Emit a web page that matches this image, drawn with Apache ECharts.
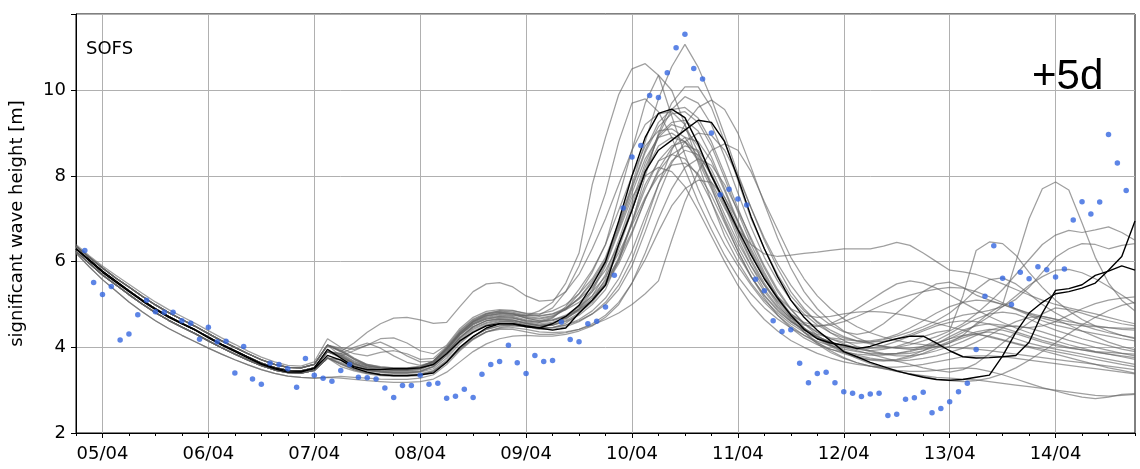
<!DOCTYPE html>
<html><head><meta charset="utf-8">
<script src="https://cdn.jsdelivr.net/npm/echarts@6/dist/echarts.min.js"></script>
<style>html,body{margin:0;padding:0;background:#fff}#c{width:1140px;height:469px}</style>
</head><body><div id="c"></div>
<script>
// x axis: hours since 04/04 18:00 (0..240); day tick labels
const dayLabels = ['05/04','06/04','07/04','08/04','09/04','10/04','11/04','12/04','13/04','14/04'];
const yTicks = [2, 4, 6, 8, 10];

// observations, every 2 h from 04/04 18:00
const obsHs = [null,6.26,5.51,5.23,5.42,4.17,4.31,4.76,5.10,4.83,
 4.82,4.82,4.62,4.56,4.19,4.47,4.13,4.14,3.40,4.02,
 3.26,3.14,3.63,3.60,3.50,3.07,3.74,3.35,3.28,3.21,
 3.46,3.60,3.30,3.29,3.26,3.05,2.83,3.11,3.11,3.35,
 3.14,3.16,2.81,2.86,3.02,2.83,3.37,3.60,3.67,4.05,
 3.64,3.39,3.81,3.67,3.69,4.59,4.18,4.13,4.55,4.61,
 4.94,5.68,7.25,8.44,8.71,9.88,9.83,10.41,10.99,11.31,
 10.51,10.26,9.00,7.56,7.69,7.46,7.32,5.59,5.32,4.62,
 4.37,4.41,3.63,3.17,3.39,3.42,3.17,2.96,2.93,2.85,
 2.91,2.93,2.41,2.44,2.79,2.82,2.95,2.47,2.57,2.73,
 2.96,3.16,3.95,5.19,6.37,5.61,5.00,5.75,5.60,5.88,
 5.81,5.64,5.83,6.97,7.40,7.11,7.39,8.97,8.30,7.66,
 null];

// two highlighted (black) runs, every 3 h from 04/04 18:00
const ctrlA = [6.30,6.02,5.75,5.52,5.30,5.08,4.88,4.70,4.55,4.40,4.22,4.05,3.90,3.75,3.60,3.50,3.42,3.42,3.52,3.95,
 3.75,3.55,3.48,3.48,3.50,3.50,3.52,3.60,3.85,4.15,4.35,4.50,4.55,4.55,4.48,4.45,4.55,4.72,4.98,5.45,
 6.00,6.95,8.00,8.90,9.46,9.56,9.36,8.75,8.00,7.40,6.75,6.15,5.60,5.15,4.75,4.42,4.20,4.10,4.05,3.97,
 4.02,4.12,4.20,4.26,4.26,4.10,3.92,3.78,3.75,3.76,3.78,3.81,4.12,4.80,5.33,5.37,5.46,5.68,5.78,5.90,5.80];
const ctrlB = [6.30,6.05,5.78,5.55,5.32,5.10,4.90,4.72,4.56,4.41,4.24,4.07,3.92,3.77,3.62,3.52,3.45,3.44,3.50,3.81,
 3.70,3.52,3.42,3.36,3.34,3.34,3.36,3.40,3.65,4.00,4.25,4.45,4.55,4.55,4.50,4.45,4.40,4.45,4.80,5.10,
 5.45,6.40,7.20,8.10,8.60,8.83,9.07,9.30,9.25,8.80,7.95,7.05,6.30,5.65,5.10,4.70,4.40,4.15,3.90,3.78,
 3.65,3.55,3.45,3.37,3.30,3.25,3.23,3.25,3.30,3.35,3.80,4.35,4.80,5.05,5.25,5.30,5.38,5.50,5.80,6.12,6.95];

// ensemble members (grey), every 3 h from 04/04 18:00
const ens01 = [6.30,6.03,5.77,5.54,5.32,5.10,4.90,4.72,4.56,4.41,4.24,4.07,3.92,3.77,3.63,3.53,3.46,3.45,3.52,3.90,
 3.80,3.62,3.52,3.48,3.46,3.47,3.50,3.62,3.92,4.28,4.52,4.66,4.72,4.74,4.74,4.85,5.05,5.50,6.20,7.80,
 8.90,9.90,10.50,10.62,10.35,9.40,8.50,7.70,7.00,6.40,5.90,5.45,5.05,4.75,4.50,4.28,4.10,3.96,3.85,3.76,
 3.70,3.68,3.70,3.76,3.86,3.98,4.10,4.22,4.32,4.36,4.30,4.20,4.10,4.02,3.96,3.90,3.84,3.78,3.72,3.66,3.60];
const ens02 = [6.36,6.10,5.85,5.62,5.41,5.19,4.99,4.81,4.65,4.49,4.32,4.15,4.00,3.85,3.71,3.60,3.53,3.52,3.60,4.05,
 3.95,3.75,3.60,3.55,3.52,3.52,3.55,3.68,3.98,4.35,4.62,4.78,4.85,4.85,4.80,4.78,4.85,5.00,5.25,5.60,
 6.10,6.90,7.80,8.80,9.80,10.55,11.07,10.54,9.80,8.95,8.05,7.25,6.55,5.95,5.45,5.05,4.75,4.52,4.36,4.30,
 4.36,4.55,4.80,5.05,5.30,5.48,5.52,5.40,5.22,5.10,5.00,4.88,4.75,4.62,4.52,4.45,4.38,4.32,4.26,4.20,4.15];
const ens03 = [6.30,6.03,5.77,5.54,5.32,5.10,4.90,4.72,4.56,4.41,4.24,4.07,3.92,3.77,3.63,3.53,3.46,3.45,3.52,3.90,
 3.78,3.60,3.50,3.45,3.43,3.44,3.48,3.60,3.88,4.22,4.48,4.62,4.68,4.68,4.62,4.58,4.68,4.95,5.35,5.80,
 6.40,7.50,8.60,9.70,10.35,10.00,9.20,8.30,7.40,6.60,6.00,5.50,5.10,4.80,4.55,4.35,4.20,4.08,4.00,3.92,
 3.84,3.76,3.68,3.60,3.52,3.46,3.42,3.48,3.62,3.85,4.10,4.35,4.58,4.78,4.92,4.88,4.80,4.70,4.62,4.55,4.50];
const ens04 = [6.24,5.96,5.69,5.46,5.23,5.01,4.81,4.63,4.47,4.32,4.15,3.99,3.84,3.70,3.57,3.47,3.41,3.40,3.46,3.75,
 3.65,3.52,3.45,3.42,3.40,3.40,3.42,3.50,3.75,4.08,4.35,4.52,4.60,4.62,4.58,4.52,4.55,4.68,4.88,5.15,
 5.50,6.00,6.90,8.00,9.00,9.70,10.08,10.08,9.60,8.80,7.90,7.00,6.30,5.70,5.20,4.85,4.60,4.40,4.25,4.15,
 4.08,4.02,3.98,3.95,3.96,4.02,4.10,4.28,4.55,4.80,5.00,6.00,7.00,7.70,7.86,7.67,6.90,6.10,5.50,5.10,4.85];
const ens05 = [6.36,6.10,5.85,5.62,5.41,5.19,4.99,4.81,4.65,4.49,4.32,4.15,4.00,3.85,3.71,3.60,3.53,3.52,3.60,4.05,
 3.90,3.72,3.58,3.52,3.50,3.50,3.53,3.66,3.96,4.32,4.58,4.72,4.78,4.78,4.74,4.76,4.92,5.30,5.90,6.70,
 7.60,8.80,9.70,9.80,9.50,8.90,8.15,7.40,6.75,6.15,5.65,5.25,4.92,4.66,4.45,4.28,4.14,4.04,3.96,3.90,
 3.86,3.84,3.86,3.92,4.02,4.16,4.32,4.50,4.66,4.78,4.82,4.78,4.66,4.52,4.40,4.30,4.20,4.12,4.04,3.96,3.90];
const ens06 = [6.30,6.03,5.77,5.54,5.32,5.10,4.90,4.72,4.56,4.41,4.24,4.07,3.92,3.77,3.63,3.53,3.46,3.45,3.52,3.90,
 3.82,3.64,3.54,3.50,3.48,3.48,3.52,3.64,3.94,4.30,4.55,4.68,4.72,4.70,4.62,4.58,4.62,4.72,4.90,5.20,
 5.70,6.50,7.40,8.30,8.95,9.25,9.30,9.05,8.45,7.70,6.95,6.25,5.65,5.15,4.75,4.45,4.22,4.05,3.92,3.82,
 3.75,3.70,3.68,3.70,3.74,3.80,3.88,3.98,4.12,4.28,4.45,4.60,4.70,4.72,4.65,4.52,4.38,4.25,4.12,4.02,3.94];
const ens07 = [6.24,5.96,5.69,5.46,5.23,5.01,4.81,4.63,4.47,4.32,4.15,3.99,3.84,3.70,3.57,3.47,3.41,3.40,3.46,3.75,
 3.62,3.50,3.42,3.38,3.36,3.36,3.38,3.46,3.70,4.00,4.26,4.42,4.50,4.52,4.48,4.42,4.42,4.48,4.60,4.78,
 5.05,5.45,6.05,6.90,7.80,8.60,9.20,9.60,9.77,9.55,9.00,8.20,7.35,6.55,5.85,5.30,4.90,4.60,4.38,4.22,
 4.10,4.02,3.98,3.98,4.02,4.10,4.20,4.28,4.30,4.26,4.18,4.10,4.02,3.96,3.90,3.84,3.78,3.72,3.66,3.60,3.55];
const ens08 = [6.30,6.03,5.77,5.54,5.32,5.10,4.90,4.72,4.56,4.41,4.24,4.07,3.92,3.77,3.63,3.53,3.46,3.45,3.52,3.90,
 3.84,3.66,3.56,3.52,3.50,3.50,3.54,3.66,3.96,4.30,4.54,4.66,4.70,4.68,4.60,4.55,4.58,4.68,4.85,5.10,
 5.50,6.30,7.20,8.10,8.70,8.90,8.80,8.40,7.80,7.10,6.45,5.90,5.45,5.08,4.78,4.55,4.36,4.20,4.08,3.98,
 3.90,3.84,3.80,3.80,3.84,3.92,4.02,4.14,4.28,4.40,4.48,4.50,4.45,4.36,4.26,4.16,4.08,4.00,3.93,3.86,3.80];
const ens09 = [6.36,6.10,5.85,5.62,5.41,5.19,4.99,4.81,4.65,4.49,4.32,4.15,4.00,3.85,3.71,3.60,3.53,3.52,3.60,4.05,
 3.90,4.10,4.35,4.55,4.68,4.70,4.64,4.56,4.58,4.95,5.30,5.48,5.51,5.41,5.20,5.08,5.10,5.30,5.70,6.30,
 7.00,7.80,8.60,9.20,9.45,9.50,9.20,8.55,7.75,6.95,6.25,5.65,5.20,4.85,4.60,4.42,4.30,4.22,4.18,4.15,
 4.15,4.20,4.30,4.45,4.62,4.80,4.95,5.05,5.10,5.08,5.00,4.90,4.80,4.72,4.66,4.60,4.55,4.50,4.46,4.42,4.40];
const ens10 = [6.20,5.88,5.58,5.32,5.06,4.83,4.62,4.44,4.28,4.13,3.98,3.84,3.71,3.59,3.48,3.39,3.33,3.30,3.28,3.30,
 3.28,3.25,3.22,3.20,3.18,3.18,3.20,3.26,3.42,3.66,3.90,4.08,4.20,4.26,4.28,4.26,4.26,4.30,4.38,4.50,
 4.70,5.00,5.50,6.20,7.00,7.70,8.20,8.40,8.25,7.80,7.20,6.55,5.90,5.35,4.90,4.55,4.28,4.06,3.88,3.74,
 3.62,3.52,3.44,3.38,3.34,3.30,3.28,3.26,3.24,3.20,3.16,3.12,3.08,3.04,3.00,2.96,2.92,2.88,2.86,2.88,2.90];
const ens11 = [6.30,6.03,5.77,5.54,5.32,5.10,4.90,4.72,4.56,4.41,4.24,4.07,3.92,3.77,3.63,3.53,3.46,3.45,3.52,3.90,
 3.85,4.00,4.10,3.98,3.80,3.65,3.58,3.66,3.96,4.32,4.60,4.76,4.82,4.78,4.68,4.62,4.70,4.90,5.25,5.75,
 6.40,7.20,8.00,8.70,9.05,9.10,8.90,8.45,7.85,7.25,6.75,6.40,6.18,6.12,6.15,6.19,6.22,6.26,6.30,6.30,
 6.30,6.36,6.45,6.38,6.20,6.00,5.80,5.76,5.70,5.60,5.48,5.35,5.22,5.10,5.00,4.92,4.85,4.78,4.70,4.62,4.55];
const ens12 = [6.24,5.96,5.69,5.46,5.23,5.01,4.81,4.63,4.47,4.32,4.15,3.99,3.84,3.70,3.57,3.47,3.41,3.40,3.46,3.75,
 3.55,3.45,3.38,3.34,3.32,3.32,3.34,3.42,3.65,3.98,4.25,4.42,4.50,4.52,4.48,4.44,4.46,4.52,4.65,4.85,
 5.15,5.60,6.25,7.05,7.80,8.35,8.60,8.50,8.05,7.40,6.70,6.05,5.50,5.05,4.70,4.45,4.25,4.12,4.02,3.95,
 3.92,3.95,4.02,4.12,4.25,4.35,4.40,5.20,6.26,6.46,6.42,6.15,5.75,5.40,5.10,4.85,4.65,4.50,4.38,4.28,4.20];
const ens13 = [6.36,6.10,5.85,5.62,5.41,5.19,4.99,4.81,4.65,4.49,4.32,4.15,4.00,3.85,3.71,3.60,3.53,3.52,3.60,4.05,
 3.92,3.72,3.58,3.52,3.50,3.50,3.54,3.68,4.00,4.38,4.64,4.78,4.82,4.80,4.72,4.68,4.74,4.90,5.15,5.50,
 6.00,6.80,7.70,8.55,9.15,9.45,9.50,9.25,8.70,7.95,7.15,6.40,5.75,5.20,4.78,4.45,4.20,4.02,3.88,3.78,
 3.72,3.70,3.72,3.80,3.92,4.08,4.25,4.40,4.50,4.55,4.52,4.48,4.46,4.50,4.60,4.75,4.90,5.02,5.10,5.15,5.18];
const ens14 = [6.30,6.03,5.77,5.54,5.32,5.10,4.90,4.72,4.56,4.41,4.24,4.07,3.92,3.77,3.63,3.53,3.46,3.45,3.52,3.90,
 3.80,3.62,3.52,3.48,3.46,3.46,3.50,3.62,3.90,4.24,4.48,4.62,4.66,4.64,4.56,4.50,4.52,4.60,4.75,5.00,
 5.35,6.05,6.95,7.80,8.35,8.50,8.40,8.00,7.40,6.75,6.15,5.65,5.22,4.88,4.60,4.40,4.25,4.12,4.04,4.00,
 3.98,3.98,4.00,4.06,4.15,4.25,4.38,4.55,4.78,5.05,5.35,5.70,6.05,6.40,6.62,6.73,6.68,6.74,6.81,6.68,6.50];
const ens15 = [6.24,5.96,5.69,5.46,5.23,5.01,4.81,4.63,4.47,4.32,4.15,3.99,3.84,3.70,3.57,3.47,3.41,3.40,3.46,3.75,
 3.62,3.48,3.40,3.36,3.34,3.34,3.36,3.44,3.66,3.96,4.20,4.36,4.44,4.46,4.42,4.36,4.34,4.36,4.42,4.52,
 4.65,4.80,5.00,5.25,5.55,6.50,7.40,8.10,8.60,8.75,8.60,8.10,7.40,6.75,6.10,5.60,5.20,4.90,4.66,4.48,
 4.34,4.24,4.16,4.10,4.06,4.02,4.00,3.98,3.96,3.92,3.88,3.84,3.80,3.76,3.72,3.68,3.64,3.60,3.56,3.52,3.48];
const ens16 = [6.30,6.03,5.77,5.54,5.32,5.10,4.90,4.72,4.56,4.41,4.24,4.07,3.92,3.77,3.63,3.53,3.46,3.45,3.52,3.90,
 3.75,3.58,3.48,3.44,3.42,3.42,3.45,3.55,3.80,4.12,4.38,4.52,4.58,4.58,4.52,4.46,4.46,4.52,4.62,4.78,
 5.00,5.35,5.90,6.70,7.55,8.30,8.80,9.00,8.95,8.60,8.00,7.25,6.50,5.85,5.30,4.90,4.58,4.34,4.16,4.02,
 3.92,3.86,3.84,3.86,3.92,4.02,4.14,4.26,4.36,4.42,4.40,4.32,4.22,4.12,4.04,3.98,3.94,3.90,3.88,3.86,3.84];
const ens17 = [6.24,5.96,5.69,5.46,5.23,5.01,4.81,4.63,4.47,4.32,4.15,3.99,3.84,3.70,3.57,3.47,3.41,3.40,3.46,3.75,
 3.70,3.55,3.46,3.42,3.40,3.40,3.43,3.54,3.82,4.16,4.42,4.56,4.62,4.60,4.52,4.48,4.52,4.65,4.90,5.30,
 5.90,6.70,7.50,8.00,8.20,8.10,7.75,7.20,6.60,6.00,5.45,5.00,4.65,4.38,4.16,4.00,3.86,3.75,3.66,3.60,
 3.56,3.54,3.54,3.56,3.60,3.66,3.72,3.78,3.80,3.80,3.78,3.74,3.70,3.66,3.62,3.58,3.54,3.50,3.46,3.42,3.38];
const ens18 = [6.36,6.10,5.85,5.62,5.41,5.19,4.99,4.81,4.65,4.49,4.32,4.15,4.00,3.85,3.71,3.60,3.53,3.52,3.60,4.05,
 3.98,3.85,3.80,3.88,3.92,3.85,3.72,3.74,4.02,4.40,4.66,4.80,4.85,4.82,4.75,4.72,4.78,4.92,5.12,5.40,
 5.80,6.40,7.20,8.10,8.95,9.55,9.85,9.70,9.20,8.45,7.60,6.80,6.10,5.55,5.10,4.78,4.52,4.34,4.22,4.15,
 4.12,4.14,4.20,4.30,4.42,4.55,4.66,4.75,4.80,4.86,4.95,5.12,5.40,5.75,6.10,6.30,6.42,6.40,6.30,6.38,6.42];
const ens19 = [6.30,6.03,5.77,5.54,5.32,5.10,4.90,4.72,4.56,4.41,4.24,4.07,3.92,3.77,3.63,3.53,3.46,3.45,3.52,3.90,
 3.78,3.62,3.52,3.48,3.46,3.46,3.50,3.60,3.88,4.20,4.45,4.58,4.64,4.62,4.55,4.50,4.52,4.62,4.80,5.05,
 5.45,6.10,6.90,7.70,8.35,8.70,8.80,8.55,8.00,7.30,6.55,5.90,5.35,4.95,4.68,4.52,4.48,4.55,4.70,4.90,
 5.10,5.30,5.48,5.55,5.50,5.38,5.22,5.05,4.88,4.72,4.58,4.45,4.34,4.24,4.15,4.06,3.98,3.90,3.84,3.78,3.72];
const ens20 = [6.20,5.88,5.58,5.32,5.06,4.83,4.62,4.44,4.28,4.13,3.98,3.84,3.71,3.59,3.48,3.39,3.33,3.30,3.28,3.30,
 3.32,3.30,3.28,3.26,3.25,3.25,3.28,3.36,3.60,3.92,4.18,4.36,4.46,4.50,4.48,4.44,4.46,4.56,4.78,5.10,
 5.60,6.40,7.30,8.20,8.90,9.20,9.10,8.70,8.05,7.35,6.65,6.00,5.45,5.00,4.65,4.36,4.12,3.92,3.76,3.64,
 3.56,3.50,3.46,3.44,3.44,3.46,3.50,3.52,3.50,3.44,3.36,3.26,3.16,3.06,2.98,2.90,2.84,2.80,2.84,2.90,2.92];
const ens21 = [6.36,6.10,5.85,5.62,5.41,5.19,4.99,4.81,4.65,4.49,4.32,4.15,4.00,3.85,3.71,3.60,3.53,3.52,3.60,4.05,
 3.80,3.92,4.05,4.12,3.98,3.80,3.66,3.68,3.95,4.30,4.56,4.70,4.75,4.72,4.64,4.60,4.64,4.75,4.95,5.20,
 5.55,6.05,6.70,7.45,8.15,8.65,8.90,8.80,8.35,7.65,6.90,6.20,5.60,5.12,4.78,4.58,4.50,4.52,4.60,4.72,
 4.86,5.00,5.12,5.22,5.30,5.36,5.40,5.38,5.30,5.18,5.04,4.90,4.78,4.68,4.60,4.54,4.50,4.48,4.46,4.45,4.44];
const ens22 = [6.24,5.96,5.69,5.46,5.23,5.01,4.81,4.63,4.47,4.32,4.15,3.99,3.84,3.70,3.57,3.47,3.41,3.40,3.46,3.75,
 3.60,3.48,3.40,3.36,3.34,3.34,3.36,3.44,3.66,3.95,4.20,4.36,4.42,4.42,4.36,4.30,4.30,4.34,4.42,4.55,
 4.75,5.05,5.50,6.05,6.70,7.30,7.70,7.90,7.85,7.50,6.95,6.30,5.70,5.15,4.70,4.35,4.08,3.88,3.74,3.64,
 3.56,3.50,3.44,3.38,3.32,3.26,3.22,3.20,3.22,3.28,3.38,3.52,3.70,3.90,4.10,4.32,4.52,4.70,4.86,4.98,5.05];
const ens23 = [6.30,6.03,5.77,5.54,5.32,5.10,4.90,4.72,4.56,4.41,4.24,4.07,3.92,3.77,3.63,3.53,3.46,3.45,3.52,3.90,
 3.86,3.68,3.56,3.52,3.50,3.50,3.54,3.66,3.96,4.34,4.60,4.74,4.80,4.78,4.70,4.66,4.72,4.88,5.15,5.55,
 6.05,6.85,7.75,8.60,9.25,9.55,9.60,9.35,8.80,8.05,7.25,6.50,5.85,5.30,4.88,4.56,4.34,4.20,4.12,4.10,
 4.12,4.18,4.26,4.36,4.48,4.62,4.80,5.05,5.35,5.58,5.62,5.48,5.25,5.00,4.80,4.64,4.52,4.42,4.34,4.28,4.22];
const ens24 = [6.40,6.14,5.90,5.68,5.47,5.26,5.06,4.88,4.72,4.56,4.39,4.22,4.07,3.91,3.77,3.66,3.58,3.56,3.66,4.20,
 4.00,3.95,4.05,4.20,4.22,4.10,3.92,3.85,4.05,4.44,4.70,4.84,4.88,4.86,4.78,4.74,4.78,4.88,5.05,5.30,
 5.65,6.20,6.85,7.50,8.00,8.25,8.30,8.05,7.55,6.90,6.25,5.65,5.15,4.75,4.45,4.22,4.06,3.95,3.88,3.84,
 3.82,3.82,3.85,3.90,3.98,4.08,4.20,4.35,4.52,4.72,4.95,5.20,5.45,5.65,5.80,5.82,5.74,5.60,5.42,5.22,5.02];
const ens25 = [6.24,5.96,5.69,5.46,5.23,5.01,4.81,4.63,4.47,4.32,4.15,3.99,3.84,3.70,3.57,3.47,3.41,3.40,3.46,3.75,
 3.72,3.56,3.47,3.43,3.41,3.41,3.44,3.56,3.86,4.22,4.48,4.62,4.66,4.64,4.56,4.52,4.56,4.70,4.95,5.35,
 5.95,6.75,7.60,8.40,8.90,9.00,8.80,8.35,7.70,7.00,6.35,5.78,5.30,4.92,4.62,4.40,4.24,4.12,4.04,4.00,
 3.98,4.04,4.14,4.26,4.38,4.50,4.58,4.62,4.60,4.54,4.46,4.36,4.26,4.16,4.08,4.00,3.94,3.88,3.84,3.80,3.76];
const ens26 = [6.36,6.10,5.85,5.62,5.41,5.19,4.99,4.81,4.65,4.49,4.32,4.15,4.00,3.85,3.71,3.60,3.53,3.52,3.60,4.05,
 3.92,3.74,3.60,3.54,3.52,3.52,3.55,3.67,3.98,4.34,4.60,4.74,4.78,4.76,4.68,4.62,4.64,4.72,4.88,5.10,
 5.45,5.95,6.65,7.45,8.10,8.50,8.70,8.60,8.15,7.50,6.80,6.15,5.60,5.18,4.90,4.75,4.70,4.72,4.78,4.82,
 4.84,4.82,4.78,4.72,4.64,4.56,4.48,4.40,4.32,4.24,4.16,4.08,4.00,3.92,3.84,3.76,3.68,3.60,3.52,3.46,3.40];

const members = [ens01,ens02,ens03,ens04,ens05,ens06,ens07,ens08,ens09,ens10,ens11,ens12,ens13,
  ens14,ens15,ens16,ens17,ens18,ens19,ens20,ens21,ens22,ens23,ens24,ens25,ens26];

[...members, ctrlA, ctrlB].forEach((a, k) => { if (a.length !== 81) throw new Error('series ' + k + ' has ' + a.length + ' values'); });
if (obsHs.length !== 121) throw new Error('obs length ' + obsHs.length);

const NH = 241; // hourly categories, 04/04 18:00 .. 14/04 18:00
const cats = Array.from({length: NH}, (_, h) => 'h' + h);
const isDay = idx => (idx + 18) % 24 === 0;
const pairs3 = a => a.map((v, j) => [3 * j, v]);
const obsPairs = obsHs.map((v, i) => v == null ? null : [2 * i, v]).filter(Boolean);

const FONT = 'DejaVu Sans';
const series = [];
members.forEach((m, k) => series.push({
  type: 'line', name: 'm' + k, data: pairs3(m), symbol: 'none', showSymbol: false, silent: true,
  lineStyle: {color: 'rgba(100,100,100,0.62)', width: 1.25}, z: 2, animation: false
}));
[ctrlA, ctrlB].forEach((m, k) => series.push({
  type: 'line', name: 'c' + k, data: pairs3(m), symbol: 'none', showSymbol: false, silent: true,
  lineStyle: {color: '#000', width: 1.4}, z: 3, animation: false
}));
series.push({type: 'scatter', name: 'obs', data: obsPairs, symbolSize: 5.5, itemStyle: {color: '#3567e0'}, z: 4, silent: true, animation: false});

const chart = echarts.init(document.getElementById('c'), null, {renderer: 'canvas'});
chart.setOption({
  animation: false,
  backgroundColor: '#fff',
  grid: {left: 75, right: 5, top: 14, bottom: 36, show: true, borderColor: '#000', borderWidth: 1, backgroundColor: 'transparent'},
  xAxis: [{
    type: 'category', data: cats, boundaryGap: false,
    axisLine: {lineStyle: {color: '#000', width: 1}},
    axisTick: {interval: isDay, length: 5, lineStyle: {color: '#000'}},
    axisLabel: {interval: isDay, margin: 12, color: '#000', fontFamily: FONT, fontSize: 18,
      formatter: (v) => { const h = Number(String(v).slice(1)); return isDay(h) ? dayLabels[(h + 18) / 24 - 1] : ''; }},
    splitLine: {show: true, interval: isDay, lineStyle: {color: '#b0b0b0', width: 1}}
  }, {
    type: 'category', data: cats, boundaryGap: false, position: 'bottom',
    axisLine: {show: false},
    axisTick: {interval: idx => idx % 6 === 0, length: 3, lineStyle: {color: '#000'}},
    axisLabel: {show: false}, splitLine: {show: false}
  }],
  yAxis: {
    type: 'value', min: 2, max: 11.78, interval: 2,
    name: 'significant wave height [m]', nameLocation: 'middle', nameGap: 50,
    nameTextStyle: {color: '#000', fontFamily: FONT, fontSize: 18},
    axisLine: {show: true, lineStyle: {color: '#000'}},
    axisTick: {show: true, length: 5, lineStyle: {color: '#000'}},
    axisLabel: {color: '#000', fontFamily: FONT, fontSize: 18, margin: 10,
      formatter: v => yTicks.includes(v) ? String(v) : ''},
    splitLine: {show: true, lineStyle: {color: '#b0b0b0', width: 1}}
  },
  graphic: [
    {type: 'text', left: 86, top: 40, style: {text: 'SOFS', fontFamily: FONT, fontSize: 18, fill: '#000'}, z: 10},
    {type: 'text', left: 1032, top: 56, style: {text: '+5d', fontFamily: 'Liberation Sans', fontSize: 42, fill: '#000'}, z: 10}
  ],
  series: series
});
</script>
</body></html>
